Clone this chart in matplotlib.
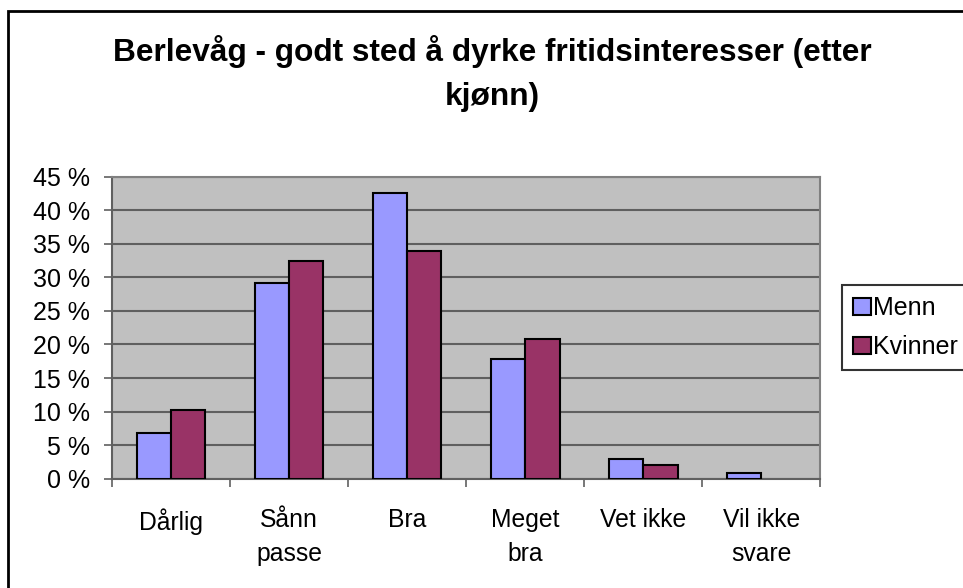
import numpy as np
import matplotlib
matplotlib.use("Agg")
import matplotlib.pyplot as plt
from matplotlib.patches import Rectangle

plt.rcParams['font.family'] = ['Liberation Sans', 'DejaVu Sans']

# data (percent)
categories = ['Dårlig', 'Sånn\npasse', 'Bra', 'Meget\nbra', 'Vet ikke', 'Vil ikke\nsvare']
menn = [6.8, 29.1, 42.6, 17.8, 2.9, 0.8]
kvinner = [10.3, 32.5, 33.9, 20.8, 2.0, 0.0]
series_names = ['Menn', 'Kvinner']
colors = ['#9999FF', '#993366']

fig = plt.figure(figsize=(9.63, 5.88), dpi=100)
ax = fig.add_axes([0.1163, 0.1859, 0.7357, 0.5136])

# outer chart border
fig.patches.append(Rectangle((7.5 / 963, -0.05), 1.1, (588 - 11) / 588 + 0.05,
                             transform=fig.transFigure, fill=False,
                             edgecolor='black', linewidth=2, zorder=0))

x = np.arange(len(categories))
w = 0.29
for offset, vals, name, c in [(-w / 2, menn, series_names[0], colors[0]),
                              (w / 2, kvinner, series_names[1], colors[1])]:
    # zero bars are not drawn in the original
    lws = [1.5 if v > 0 else 0 for v in vals]
    ax.bar(x + offset, vals, w, color=c, edgecolor='black', linewidth=lws,
           label=name, zorder=3)

ax.set_facecolor('#C0C0C0')
ax.set_xlim(-0.5, len(categories) - 0.5)
ax.set_ylim(0, 45)
ax.set_yticks(range(0, 50, 5))
ax.set_yticklabels([f'{v} %' for v in range(0, 50, 5)])
ax.yaxis.grid(True, color='#5f5f5f', linewidth=1.5, zorder=1)
ax.set_axisbelow(True)

ax.set_xticks(x)
ax.set_xticklabels(categories, linespacing=1.55)
ax.set_xticks(np.arange(-0.5, len(categories)), minor=True)
ax.tick_params(axis='x', which='major', length=0, pad=21, labelsize=17.8)
ax.tick_params(axis='x', which='minor', length=6, width=1.2, color='#606060', direction='out')
ax.tick_params(axis='y', length=6, width=1.2, color='#606060', pad=10, labelsize=18)

for s in ['left', 'bottom']:
    ax.spines[s].set_color('#606060')
    ax.spines[s].set_linewidth(1.5)
for s in ['top', 'right']:
    ax.spines[s].set_color('#808080')
    ax.spines[s].set_linewidth(1.5)

fig.text(492 / 963, 1 - 52 / 588, 'Berlevåg - godt sted å dyrke fritidsinteresser (etter',
         ha='center', va='center', fontsize=22.8, fontweight='bold')
fig.text(492 / 963, 1 - 97 / 588, 'kjønn)',
         ha='center', va='center', fontsize=22.8, fontweight='bold')

leg = fig.legend(loc='upper left', bbox_to_anchor=(842 / 963, 1 - 285 / 588),
                 fontsize=18, frameon=True, fancybox=False, shadow=False,
                 handlelength=0.7, handleheight=0.7, handletextpad=0.1,
                 borderpad=0.45, labelspacing=0.6, borderaxespad=0)
leg.get_frame().set_edgecolor('black')
leg.get_frame().set_linewidth(1.5)

fig.savefig('out.png', dpi=100)
